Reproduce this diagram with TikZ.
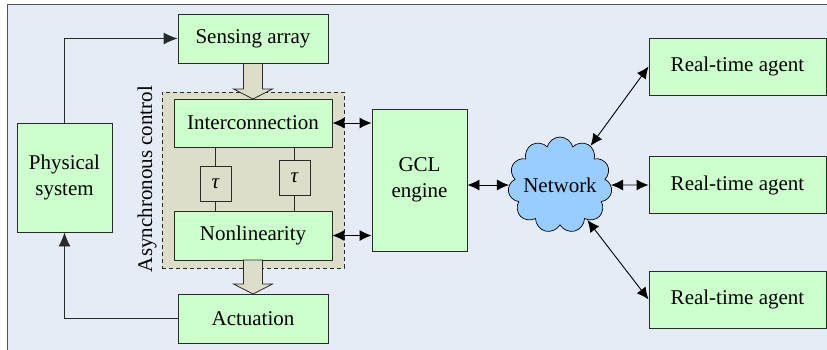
\documentclass[tikz,border=0pt]{standalone}
\usepackage{fontspec}
\setmainfont{Liberation Serif}
\newfontfamily\serf{Liberation Serif}
\usetikzlibrary{arrows.meta,shapes.symbols}
\definecolor{bgc}{HTML}{E6ECF6}
\definecolor{boxg}{HTML}{CCFFCC}
\definecolor{khaki}{HTML}{DDDDC9}
\definecolor{cloudc}{HTML}{99CCFF}
\definecolor{edge}{HTML}{2A2A2A}
\tikzset{bigtext/.style={font=\serf\fontsize{21}{26}\selectfont}}
\begin{document}
\begin{tikzpicture}[x=1pt,y=-1pt,
  blk/.style={draw=edge,line width=0.9pt,fill=boxg,inner sep=0pt,bigtext,align=center},
  taubox/.style={draw=edge,line width=0.9pt,fill=khaki,inner sep=0pt,minimum width=31pt,minimum height=35pt,bigtext},
  fb/.style={line width=0.9pt,draw=edge,-{Latex[length=14pt,width=12pt]}},
  dbl/.style={line width=0.9pt,draw=black,{Latex[length=12pt,width=11pt]}-{Latex[length=12pt,width=11pt]}},
  barrow/.style={draw=edge,line width=0.8pt,fill=khaki}]
\useasboundingbox (0,0) rectangle (827,349);
\fill[bgc] (7.5,4.5) rectangle (830,352);
\draw[edge!80,line width=1.2pt] (7.5,352) -- (7.5,4.5) -- (830,4.5);
% dashed container
\node[draw=edge,dashed,dash pattern=on 4pt off 3pt,line width=0.9pt,fill=khaki,minimum width=182pt,minimum height=176pt,inner sep=0pt] (async) at (253,180) {};
\node[rotate=90,bigtext] (alab) at (147,179) {Asynchronous control};
% blocks
\node[blk,minimum width=150pt,minimum height=49pt] (sens) at (253,38.5) {Sensing array};
\node[blk,minimum width=95pt,minimum height=109pt] (phys) at (64.5,177.5) {Physical\\system};
\node[blk,minimum width=158pt,minimum height=48pt] (inter) at (253,123) {Interconnection};
\node[blk,minimum width=158pt,minimum height=49pt] (nonl) at (253,235.5) {Nonlinearity};
\node[taubox] (tau1) at (215.5,183.5) {\itshape τ};
\node[taubox] (tau2) at (294.5,177.5) {\itshape τ};
\node[blk,minimum width=150pt,minimum height=49pt] (act) at (253,318.5) {Actuation};
\node[blk,minimum width=95pt,minimum height=142pt] (gcl) at (419.5,180) {GCL\\engine};
\node[draw=black,line width=0.7pt,fill=cloudc,cloud,cloud puffs=11,cloud ignores aspect,minimum width=101pt,minimum height=96pt,inner sep=0pt,bigtext] (net) at (560,185) {Network};
\node[blk,minimum width=177pt,minimum height=57pt] (ag1) at (737.5,66.5) {Real-time agent};
\node[blk,minimum width=177pt,minimum height=57pt] (ag2) at (737.5,185) {Real-time agent};
\node[blk,minimum width=177pt,minimum height=57pt] (ag3) at (737.5,299.5) {Real-time agent};
% tau links
\draw[edge,line width=0.9pt] (tau1.north) -- (tau1.north |- inter.south);
\draw[edge,line width=0.9pt] (tau1.south) -- (tau1.south |- nonl.north);
\draw[edge,line width=0.9pt] (tau2.north) -- (tau2.north |- inter.south);
\draw[edge,line width=0.9pt] (tau2.south) -- (tau2.south |- nonl.north);
% block arrows
\draw[barrow] (243.5,63.5) -- (262.5,63.5) -- (262.5,89) -- (272.5,89) -- (253,99) -- (233.5,89) -- (243.5,89) -- cycle;
\draw[barrow] (243.5,260) -- (262.5,260) -- (262.5,284) -- (272.5,284) -- (253,294) -- (233.5,284) -- (243.5,284) -- cycle;
% feedback
\draw[fb] (phys.north) |- (sens.west);
\draw[fb] (act.west) -| (phys.south);
% double arrows
\draw[dbl] (inter.east) -- (inter.east -| gcl.west);
\draw[dbl] (nonl.east) -- (nonl.east -| gcl.west);
\draw[dbl] (gcl.east |- net.west) -- (net.west);
\draw[dbl] (net.east) -- (ag2.west);
\draw[dbl] (net.52) -- (ag1.west);
\draw[dbl] (net.-52) -- (ag3.west);
\end{tikzpicture}
\end{document}
